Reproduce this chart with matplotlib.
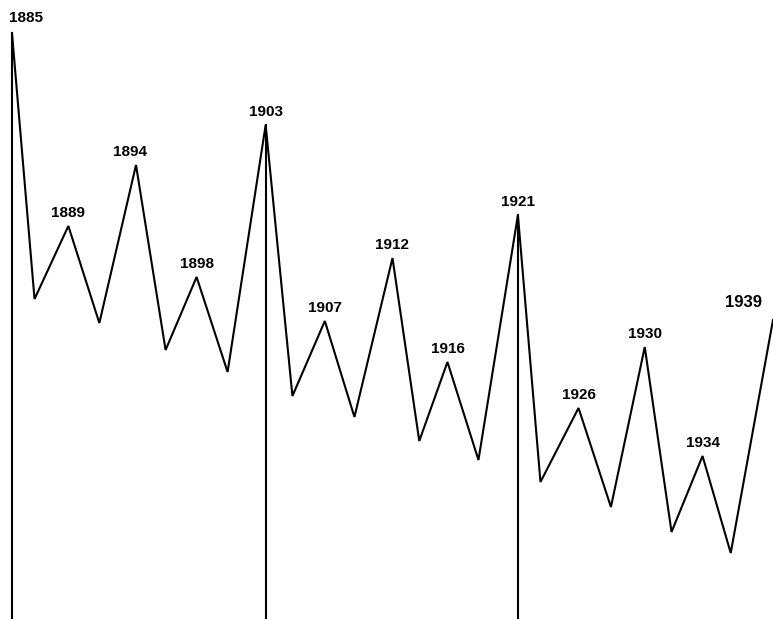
import matplotlib
matplotlib.use("Agg")
import matplotlib.pyplot as plt

# Turning points of the cycle (year position, index level)
years = [1885.0, 1886.6, 1889.0, 1891.2, 1893.8, 1895.9, 1898.1, 1900.3,
         1903.0, 1904.9, 1907.2, 1909.3, 1912.0, 1913.9, 1915.9, 1918.1,
         1920.9, 1922.5, 1925.2, 1927.5, 1929.9, 1931.8, 1934.0, 1936.0,
         1939.0]
levels = [586, 320, 393, 296, 454, 269, 342, 247,
          494, 223, 298, 202, 361, 178, 257, 159,
          404, 137, 211, 112, 272, 87, 163, 66,
          299]

# Labelled peaks
peak_labels = ["1885", "1889", "1894", "1898", "1903", "1907", "1912",
               "1916", "1921", "1926", "1930", "1934", "1939"]
peak_index = [0, 2, 4, 6, 8, 10, 12, 14, 16, 18, 20, 22, 24]

# Major peaks marked with a vertical rule
major_peaks = [0, 8, 16]

fig = plt.figure(figsize=(7.73, 6.19), dpi=100)
ax = fig.add_axes([0, 0, 1, 1])
ax.set_xlim(1884.15, 1939.0)
ax.set_ylim(0, 619)
ax.axis("off")

ax.plot(years, levels, color="black", lw=1.5, solid_joinstyle="miter")

for i in major_peaks:
    ax.plot([years[i], years[i]], [0, levels[i]], color="black", lw=1.5)

label_style = dict(fontfamily="Liberation Sans", fontweight="bold",
                   color="black", va="bottom")
for lab, i in zip(peak_labels, peak_index):
    x, y = years[i], levels[i]
    if lab == "1885":
        ax.annotate(lab, (x, y), xytext=(-2, 6), textcoords="offset points",
                    ha="left", fontsize=11, **label_style)
    elif lab == "1939":
        ax.annotate(lab, (x, y), xytext=(-21, 7), textcoords="offset points",
                    ha="center", fontsize=12, **label_style)
    elif lab == "1894":
        ax.annotate(lab, (x, y), xytext=(-4, 4), textcoords="offset points",
                    ha="center", fontsize=11, **label_style)
    else:
        ax.annotate(lab, (x, y), xytext=(0, 4), textcoords="offset points",
                    ha="center", fontsize=11, **label_style)

fig.savefig("out.png", dpi=100, facecolor="white")
